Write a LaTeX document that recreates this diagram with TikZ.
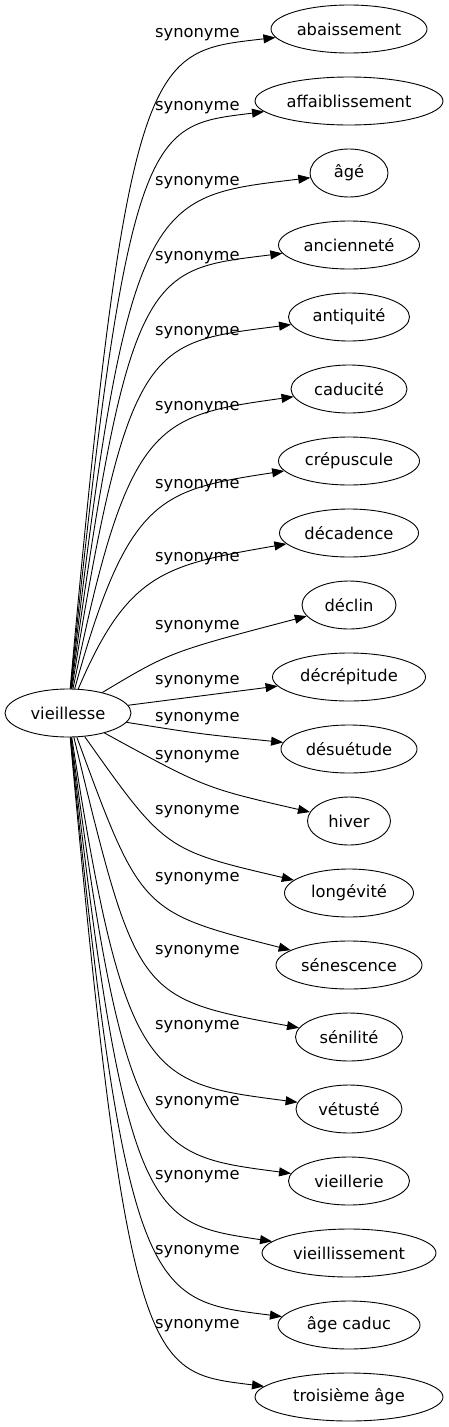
\documentclass[tikz,border=0pt]{standalone}
\usepackage{fontspec}
\setmainfont{DejaVu Sans}
\usetikzlibrary{arrows.meta,shapes.geometric}

\begin{document}
\begin{tikzpicture}[x=1pt,y=-1pt,inner sep=0pt,font=\fontsize{16.3pt}{19pt}\selectfont]
  \tikzstyle{v}=[ellipse,draw,line width=0.9pt,minimum height=48pt]
  \tikzstyle{lbl}=[anchor=west]
  \useasboundingbox (0,0) rectangle (448,1427);
  \node[v,minimum width=126pt](vieillesse)at(68,713){vieillesse};
  \foreach\t/\w[count=\i]in{abaissement/156,affaiblissement/188,âgé/78,ancienneté/141,antiquité/121,caducité/116,crépuscule/141,décadence/139,déclin/94,décrépitude/153,désuétude/136,hiver/83,longévité/129,sénescence/146,sénilité/107,vétusté/106,vieillerie/121,vieillissement/174,âge caduc/142,troisième âge/188}{\node[v,minimum width=\w pt](s\i)at(349,{72*\i-43}){\t};}
  \foreach\y[count=\i]in{35,108,183,258,333,408,486,559,627,682,719,757,812,879,952,1027,1103,1177,1252,1326}{\node[lbl](l\i)at(155,\y){synonyme};}
  \tikzstyle{e}=[-{Triangle[length=12pt,width=9pt]},draw=black,line width=0.9pt]
  \foreach\i/\ax/\ay/\bx/\by in{1/128/45/150/52,2/128/119/150/126,3/128/190/152/197,4/128/263/150/270,5/128/336/150/343,6/128/420/155/416,7/128/496/160/490,8/128/572/165/565,9/170/652/170/652,10/200/696/200/696,11/200/734/200/734,12/205/788/205/788,13/165/850/165/850,14/141/912/141/912,15/137/998/137/998,16/125/1083/150/1083,17/125/1155/150/1155,18/125/1223/150/1223,19/126/1302/150/1300,20/128/1379/150/1372}{\draw[e](vieillesse)..controls(\ax,\ay)and(\bx,\by)..(s\i);}
\end{tikzpicture}
\end{document}
